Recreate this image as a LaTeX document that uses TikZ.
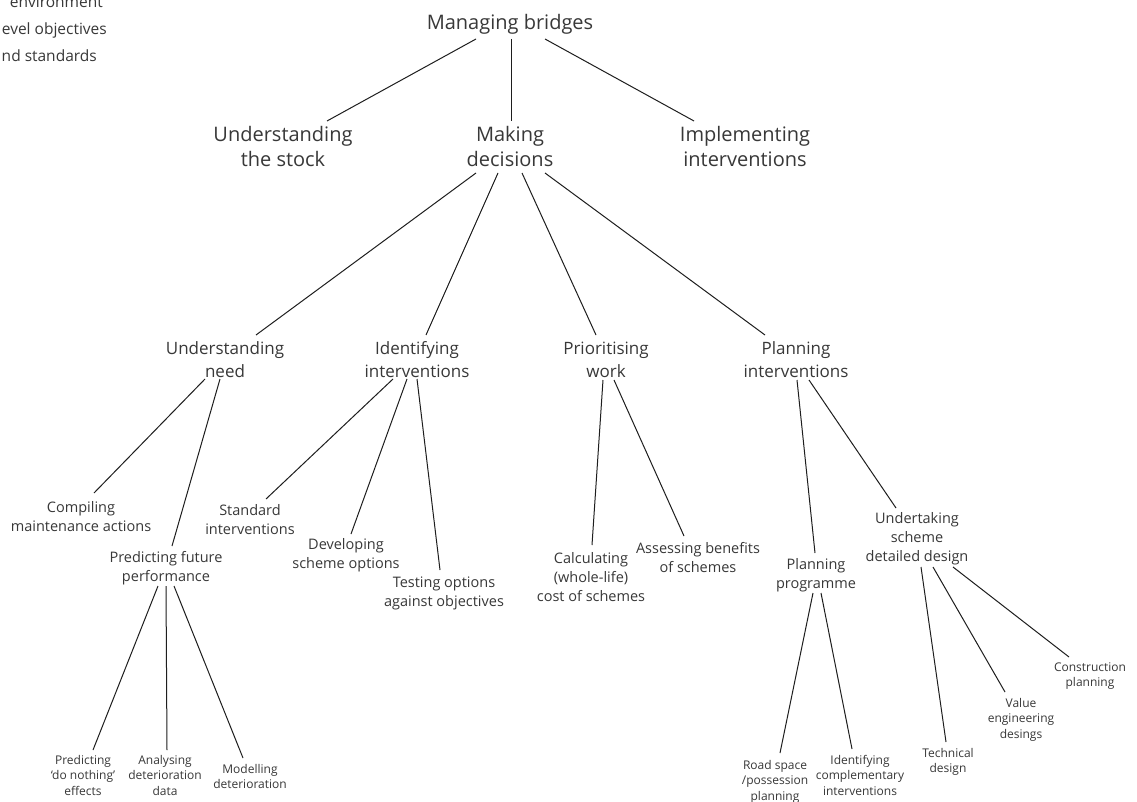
\documentclass[tikz,border=0pt]{standalone}
\usepackage{fontspec}
\setmainfont{Open Sans}
\definecolor{txt}{HTML}{383838}
\definecolor{ln}{HTML}{1E1E1E}
\begin{document}
% Every label is placed by the baseline of its last line.
\begin{tikzpicture}[x=1pt,y=-1pt,
  lbl/.style={align=center, anchor=base, inner sep=0pt, text=txt},
  big/.style={lbl, font=\fontsize{20}{25}\selectfont},
  mid/.style={lbl, font=\fontsize{17}{23.5}\selectfont},
  sml/.style={lbl, font=\fontsize{14.5}{19}\selectfont},
  tiny/.style={lbl, font=\fontsize{12}{15.5}\selectfont},
  side/.style={anchor=base east, inner sep=0pt, text=txt, font=\fontsize{15.5}{27}\selectfont},
  link/.style={draw=ln, line width=1pt}]
\fill[white] (0,0) rectangle (1137,802);
\useasboundingbox (0,0) rectangle (1137,802);

% left margin items
\node[side] (envA) at (103,8) {environment};
\node[side] (envB) at (107,35) {evel objectives};
\node[side] (envC) at (97,62) {nd standards};

% top levels
\node[big] (mb) at (510,30) {Managing bridges};
\node[big] (us) at (283,167) {Understanding\\the stock};
\node[big] (md) at (510,167) {Making\\decisions};
\node[big] (ii) at (745,167) {Implementing\\interventions};

% decision branches
\node[mid] (un) at (225,377.5) {Understanding\\need};
\node[mid] (id) at (417,377.5) {Identifying\\interventions};
\node[mid] (pw) at (606,377.5) {Prioritising\\work};
\node[mid] (pi) at (796,377.5) {Planning\\interventions};

% third level
\node[sml] (cm) at (81,531) {Compiling\\maintenance actions};
\node[sml] (pf) at (166,581) {Predicting future\\performance};
\node[sml] (si) at (250,534) {Standard\\interventions};
\node[sml] (ds) at (346,568) {Developing\\scheme options};
\node[sml] (to) at (444,606) {Testing options\\against objectives};
\node[sml] (cc) at (591,601) {Calculating\\(whole-life)\\cost of schemes};
\node[sml] (ab) at (698,572) {Assessing benefits\\of schemes};
\node[sml] (pp) at (816,588) {Planning\\programme};
\node[sml] (ud) at (917,561) {Undertaking\\scheme\\detailed design};

% fourth level
\node[tiny] (pdn) at (83,795) {Predicting\\‘do nothing’\\effects};
\node[tiny] (add) at (165,795) {Analysing\\deterioration\\data};
\node[tiny] (mdt) at (250,788.5) {Modelling\\deterioration};
\node[tiny] (rsp) at (775,800) {Road space\\/possession\\planning};
\node[tiny] (icx) at (860,795) {Identifying\\complementary\\interventions};
\node[tiny] (td) at (948,772.5) {Technical\\design};
\node[tiny] (ve) at (1021,738) {Value\\engineering\\desings};
\node[tiny] (cp) at (1090,686.5) {Construction\\planning};

% connectors
\draw[link] ([shift={(-34,9)}]mb.base) -- ([shift={(44,-46)}]us.base);
\draw[link] ([shift={(1,9)}]mb.base) -- ([shift={(1,-46)}]md.base);
\draw[link] ([shift={(35,9)}]mb.base) -- ([shift={(-51,-46)}]ii.base);

\draw[link] ([shift={(-34,6)}]md.base) -- ([shift={(31,-42.5)}]un.base);
\draw[link] ([shift={(-12,6)}]md.base) -- ([shift={(9,-42.5)}]id.base);
\draw[link] ([shift={(12,6)}]md.base) -- ([shift={(-10,-42.5)}]pw.base);
\draw[link] ([shift={(35,6)}]md.base) -- ([shift={(-31,-42.5)}]pi.base);

\draw[link] ([shift={(-20,1.5)}]un.base) -- ([shift={(13,-38)}]cm.base);
\draw[link] ([shift={(-5,1.5)}]un.base) -- ([shift={(6,-35)}]pf.base);

\draw[link] ([shift={(-24,1.5)}]id.base) -- ([shift={(16,-35)}]si.base);
\draw[link] ([shift={(-10,1.5)}]id.base) -- ([shift={(5,-34)}]ds.base);
\draw[link] ([shift={(0,1.5)}]id.base) -- ([shift={(-4,-36)}]to.base);

\draw[link] ([shift={(-3,2.5)}]pw.base) -- ([shift={(1,-56)}]cc.base);
\draw[link] ([shift={(8,2.5)}]pw.base) -- ([shift={(-14,-36)}]ab.base);

\draw[link] ([shift={(1,2.5)}]pi.base) -- ([shift={(-1,-35)}]pp.base);
\draw[link] ([shift={(13,2.5)}]pi.base) -- ([shift={(-21,-53)}]ud.base);

\draw[link] ([shift={(-8,5)}]pf.base) -- ([shift={(10,-45)}]pdn.base);
\draw[link] ([shift={(0,5)}]pf.base) -- ([shift={(2,-45)}]add.base);
\draw[link] ([shift={(8,5)}]pf.base) -- ([shift={(-7,-30.5)}]mdt.base);

\draw[link] ([shift={(-3,5)}]pp.base) -- ([shift={(5,-47)}]rsp.base);
\draw[link] ([shift={(5,5)}]pp.base) -- ([shift={(-8,-46)}]icx.base);

\draw[link] ([shift={(4,6)}]ud.base) -- ([shift={(-2,-30.5)}]td.base);
\draw[link] ([shift={(16,6)}]ud.base) -- ([shift={(-16,-46)}]ve.base);
\draw[link] ([shift={(36,6)}]ud.base) -- ([shift={(-21,-29.5)}]cp.base);
\end{tikzpicture}
\end{document}
